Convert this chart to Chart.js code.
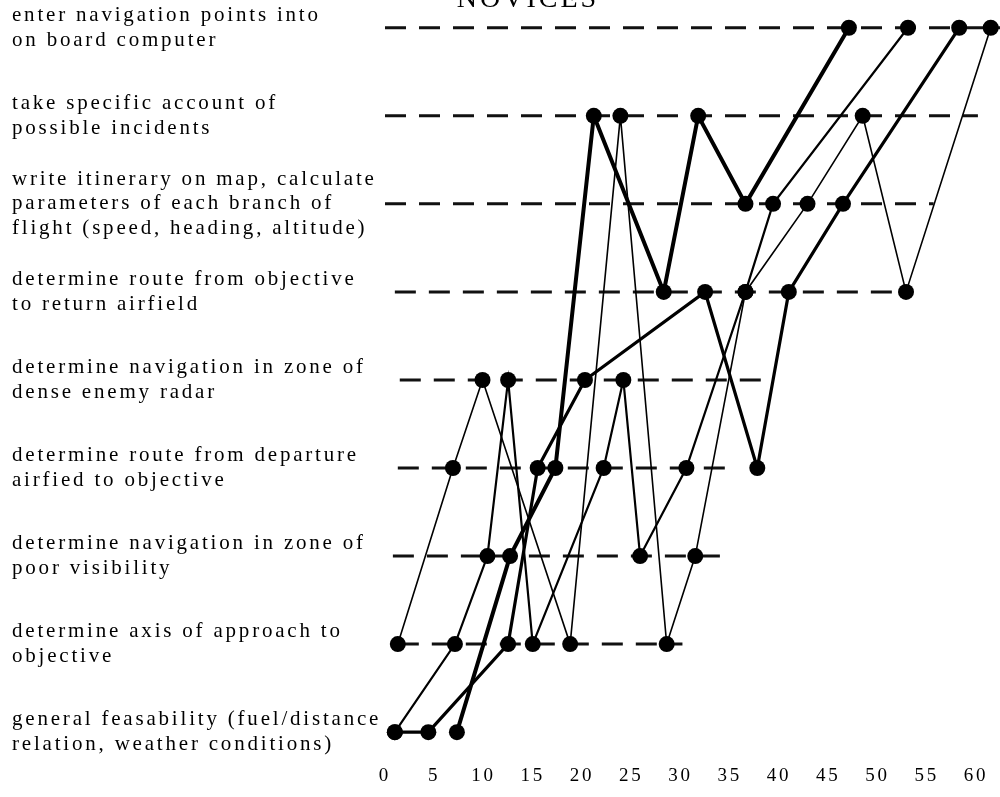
<!DOCTYPE html>
<html>
<head>
<meta charset="utf-8">
<script src="https://cdn.jsdelivr.net/npm/chart.js@4"></script>
<style>
  html, body { margin: 0; padding: 0; background: #fff; }
  #wrap { width: 1000px; height: 797px; }
</style>
</head>
<body>
<div id="wrap"><canvas id="myChart"></canvas></div>
<script>
// etapas da tarefa, de baixo (1) para cima (9)
const etapas = [
  ['general feasability (fuel/distance', 'relation, weather conditions)'],
  ['determine axis of approach to', 'objective'],
  ['determine navigation in zone of', 'poor visibility'],
  ['determine route from departure', 'airfied to objective'],
  ['determine navigation in zone of', 'dense enemy radar'],
  ['determine route from objective', 'to return airfield'],
  ['write itinerary on map, calculate', 'parameters of each branch of', 'flight (speed, heading, altitude)'],
  ['take specific account of', 'possible incidents'],
  ['enter navigation points into', 'on board computer']
];
const tempos = [0, 5, 10, 15, 20, 25, 30, 35, 40, 45, 50, 55, 60];

// sequencia de cada novato: tempo e etapa
const novato1Tempo = [7.3, 12.7, 17.3, 21.2, 28.3, 31.8, 36.6, 47.1];
const novato1Etapa = [1, 3, 4, 8, 6, 8, 7, 9];

const novato2Tempo = [1.0, 4.4, 12.5, 15.5, 20.3, 32.5, 37.8, 41.0, 46.5, 58.3];
const novato2Etapa = [1, 1, 2, 4, 5, 6, 4, 6, 7, 9];

const novato3Tempo = [1.0, 7.1, 10.4, 12.5, 15.0, 22.2, 24.2, 25.9, 30.6, 36.6, 39.4, 53.1];
const novato3Etapa = [1, 2, 3, 5, 2, 4, 5, 3, 4, 6, 7, 9];

const novato4Tempo = [1.3, 6.9, 9.9, 18.8, 23.9, 28.6, 31.5, 36.6, 42.9, 48.5, 52.9, 61.5];
const novato4Etapa = [2, 4, 5, 2, 8, 2, 3, 6, 7, 8, 6, 9];

// linhas tracejadas de cada etapa (inicio e fim no eixo do tempo)
const guiaEtapa  = [9, 8, 7, 6, 5, 4, 3, 2];
const guiaInicio = [0, 0, 0, 1.0, 1.5, 1.3, 0.8, 1.3];
const guiaFim    = [62.5, 60.2, 55.7, 52.9, 38.8, 34.6, 34.1, 30.2];

function pontos(tempo, etapa) {
  return tempo.map((t, i) => ({ x: t, y: etapa[i] }));
}

function novato(tempo, etapa, largura) {
  return {
    data: pontos(tempo, etapa),
    showLine: true,
    borderColor: '#000',
    borderWidth: largura,
    backgroundColor: '#000',
    pointRadius: 8,
    pointBorderWidth: 0,
    pointHoverRadius: 8,
    clip: false,
    order: 0
  };
}

const guias = guiaEtapa.map((e, i) => ({
  data: [{ x: guiaInicio[i], y: e }, { x: guiaFim[i], y: e }],
  showLine: true,
  borderColor: '#111',
  borderWidth: 3,
  borderDash: [21, 13],
  pointRadius: 0,
  clip: false,
  order: 10
}));

const serif = '"Liberation Serif", "Times New Roman", serif';

const tituloPlugin = {
  id: 'titulo',
  beforeDraw(chart) {
    chart.ctx.letterSpacing = '2.8px';
  },
  afterDraw(chart) {
    const ctx = chart.ctx;
    ctx.save();
    ctx.letterSpacing = '3px';
    ctx.font = '28px ' + serif;
    ctx.fillStyle = '#000';
    ctx.textAlign = 'center';
    ctx.textBaseline = 'alphabetic';
    ctx.fillText('NOVICES', 528, 7);
    ctx.restore();
  }
};

const ctx = document.getElementById('myChart').getContext('2d');
const myChart = new Chart(ctx, {
  type: 'scatter',
  data: {
    datasets: [
      novato(novato1Tempo, novato1Etapa, 4),
      novato(novato2Tempo, novato2Etapa, 3.2),
      novato(novato3Tempo, novato3Etapa, 2.2),
      novato(novato4Tempo, novato4Etapa, 1.6),
      ...guias
    ]
  },
  options: {
    responsive: true,
    maintainAspectRatio: false,
    animation: false,
    layout: { padding: { top: 24, left: 12, right: 0, bottom: 0 } },
    plugins: {
      legend: { display: false },
      tooltip: { enabled: false }
    },
    scales: {
      x: {
        type: 'linear',
        min: 0,
        max: 61.63,
        afterBuildTicks: (scale) => { scale.ticks = tempos.map(v => ({ value: v })); },
        afterFit: (scale) => { scale.height = 32; },
        ticks: {
          color: '#000',
          padding: 0,
          maxRotation: 0,
          autoSkip: false,
          font: { family: serif, size: 19 }
        },
        grid: { display: false, drawTicks: false },
        border: { display: false }
      },
      y: {
        type: 'linear',
        min: 0.627,
        max: 9,
        afterBuildTicks: (scale) => { scale.ticks = etapas.map((e, i) => ({ value: i + 1 })); },
        afterFit: (scale) => { scale.width = 373; },
        ticks: {
          color: '#000',
          crossAlign: 'far',
          autoSkip: false,
          callback: (v) => etapas[v - 1],
          font: { family: serif, size: 21, lineHeight: 1.18 }
        },
        grid: { display: false, drawTicks: false },
        border: { display: false }
      }
    }
  },
  plugins: [tituloPlugin]
});
</script>
</body>
</html>
